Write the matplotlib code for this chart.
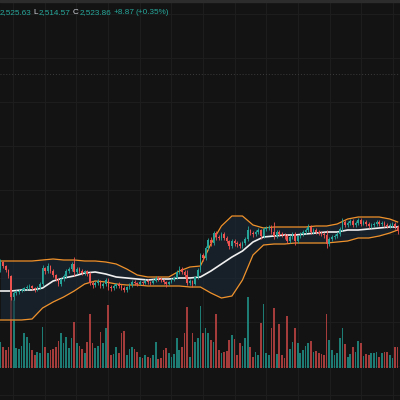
import numpy as np
import matplotlib
matplotlib.use("Agg")
import matplotlib.pyplot as plt

# ---- candle data (hourly bars, oldest first) ----
opens = [2440, 2456, 2448, 2440, 2428, 2386, 2394, 2396, 2398, 2400,
         2404, 2406, 2408, 2404, 2402, 2406, 2412, 2444, 2438, 2448,
         2438, 2430, 2422, 2412, 2422, 2428, 2438, 2442, 2452, 2436,
         2442, 2438, 2434, 2438, 2432, 2414, 2410, 2414, 2418, 2408,
         2412, 2420, 2406, 2404, 2408, 2412, 2408, 2404, 2400, 2406,
         2410, 2416, 2414, 2412, 2416, 2414, 2418, 2416, 2414, 2418,
         2424, 2422, 2420, 2416, 2412, 2416, 2420, 2424, 2436, 2442,
         2436, 2430, 2414, 2418, 2412, 2426, 2440, 2470, 2464, 2484,
         2500, 2494, 2514, 2506, 2504, 2512, 2504, 2498, 2488, 2498,
         2494, 2492, 2488, 2494, 2502, 2520, 2514, 2512, 2516, 2520,
         2508, 2522, 2524, 2526, 2516, 2508, 2516, 2512, 2510, 2508,
         2498, 2506, 2512, 2498, 2508, 2512, 2516, 2520, 2526, 2516,
         2520, 2516, 2514, 2512, 2510, 2492, 2502, 2506, 2508, 2512,
         2522, 2536, 2530, 2534, 2538, 2530, 2534, 2540, 2532, 2536,
         2532, 2528, 2530, 2532, 2536, 2532, 2534, 2530, 2528, 2530,
         2532, 2526]
closes = [2456, 2448, 2440, 2428, 2386, 2394, 2396, 2398, 2400, 2404,
          2406, 2408, 2404, 2402, 2406, 2412, 2444, 2438, 2448, 2438,
          2430, 2422, 2412, 2422, 2428, 2438, 2442, 2452, 2436, 2442,
          2438, 2434, 2438, 2432, 2414, 2410, 2414, 2418, 2408, 2412,
          2420, 2406, 2404, 2408, 2412, 2408, 2404, 2400, 2406, 2410,
          2416, 2414, 2412, 2416, 2414, 2418, 2416, 2414, 2418, 2424,
          2422, 2420, 2416, 2412, 2416, 2420, 2424, 2436, 2442, 2436,
          2430, 2414, 2418, 2412, 2426, 2440, 2470, 2464, 2484, 2500,
          2494, 2514, 2506, 2504, 2512, 2504, 2498, 2488, 2498, 2494,
          2492, 2488, 2494, 2502, 2520, 2514, 2512, 2516, 2520, 2508,
          2522, 2524, 2526, 2516, 2508, 2516, 2512, 2510, 2508, 2498,
          2506, 2512, 2498, 2508, 2512, 2516, 2520, 2526, 2516, 2520,
          2516, 2514, 2512, 2510, 2492, 2502, 2506, 2508, 2512, 2522,
          2536, 2530, 2534, 2538, 2530, 2534, 2540, 2532, 2536, 2532,
          2528, 2530, 2532, 2536, 2532, 2534, 2530, 2528, 2530, 2532,
          2526, 2518]
highs = [2462, 2458, 2450, 2442, 2430, 2398, 2400, 2402, 2404, 2406,
         2410, 2412, 2410, 2406, 2408, 2416, 2450, 2446, 2454, 2450,
         2442, 2432, 2424, 2424, 2432, 2442, 2446, 2456, 2466, 2446,
         2446, 2442, 2440, 2440, 2436, 2418, 2418, 2422, 2420, 2416,
         2424, 2424, 2410, 2412, 2414, 2416, 2412, 2408, 2408, 2414,
         2420, 2420, 2416, 2420, 2418, 2422, 2422, 2418, 2422, 2428,
         2428, 2426, 2422, 2418, 2418, 2424, 2428, 2440, 2448, 2446,
         2440, 2440, 2422, 2420, 2428, 2444, 2474, 2474, 2488, 2504,
         2506, 2518, 2518, 2510, 2516, 2516, 2508, 2500, 2502, 2502,
         2498, 2496, 2498, 2506, 2528, 2522, 2518, 2520, 2524, 2522,
         2526, 2528, 2530, 2530, 2536, 2520, 2520, 2516, 2514, 2512,
         2510, 2516, 2516, 2510, 2516, 2520, 2524, 2532, 2530, 2524,
         2524, 2520, 2518, 2516, 2520, 2506, 2510, 2512, 2516, 2526,
         2544, 2540, 2538, 2542, 2542, 2538, 2544, 2544, 2540, 2540,
         2536, 2534, 2536, 2540, 2540, 2538, 2538, 2534, 2534, 2536,
         2536, 2530]
lows = [2436, 2444, 2436, 2424, 2380, 2380, 2390, 2392, 2396, 2398,
        2400, 2402, 2400, 2396, 2398, 2402, 2408, 2432, 2434, 2434,
        2426, 2418, 2408, 2408, 2418, 2424, 2434, 2438, 2428, 2432,
        2434, 2430, 2430, 2428, 2410, 2404, 2406, 2410, 2404, 2404,
        2408, 2400, 2398, 2400, 2404, 2404, 2400, 2396, 2396, 2402,
        2406, 2410, 2408, 2410, 2410, 2412, 2412, 2410, 2412, 2416,
        2418, 2416, 2412, 2406, 2410, 2414, 2418, 2422, 2432, 2432,
        2426, 2410, 2410, 2406, 2410, 2422, 2436, 2458, 2460, 2480,
        2488, 2490, 2500, 2500, 2500, 2500, 2494, 2482, 2484, 2488,
        2486, 2484, 2484, 2490, 2498, 2510, 2506, 2508, 2512, 2502,
        2504, 2518, 2520, 2512, 2502, 2504, 2508, 2506, 2502, 2494,
        2494, 2502, 2490, 2494, 2504, 2508, 2512, 2516, 2512, 2512,
        2512, 2510, 2508, 2504, 2484, 2488, 2498, 2502, 2504, 2508,
        2518, 2526, 2526, 2530, 2526, 2526, 2530, 2528, 2530, 2528,
        2524, 2524, 2526, 2528, 2528, 2528, 2526, 2524, 2524, 2526,
        2522, 2512]
volumes = [26, 21, 18, 21, 88, 68, 20, 19, 22, 35,
           31, 25, 18, 13, 16, 15, 41, 21, 15, 18,
           19, 21, 27, 35, 25, 31, 20, 30, 46, 25,
           22, 19, 15, 26, 54, 25, 20, 22, 36, 25,
           40, 63, 13, 14, 21, 15, 35, 37, 13, 19,
           21, 19, 16, 11, 10, 13, 11, 10, 13, 26,
           9, 10, 18, 20, 15, 11, 14, 30, 18, 21,
           35, 61, 11, 35, 26, 30, 62, 35, 40, 35,
           28, 26, 54, 18, 15, 16, 17, 28, 33, 29,
           13, 25, 22, 30, 71, 21, 11, 16, 13, 45,
           64, 15, 13, 40, 60, 14, 44, 13, 10, 52,
           19, 26, 40, 25, 15, 18, 22, 25, 27, 16,
           17, 15, 14, 13, 54, 28, 18, 13, 15, 30,
           40, 24, 11, 14, 21, 16, 27, 25, 12, 14,
           13, 15, 15, 16, 11, 15, 16, 16, 13, 10,
           21, 21]

# Bollinger bands read every 4th bar
band_idx = [0, 4, 8, 12, 16, 20, 24, 28, 32, 36, 40, 44, 48, 52, 56, 60, 64, 68, 72,
            76, 80, 84, 88, 92, 96, 100, 104, 108, 112, 116, 120, 124, 128, 132, 136,
            140, 144, 148, 151]
bb_upper = [2458, 2458, 2458, 2458, 2460, 2462, 2460, 2460, 2458, 2458, 2456, 2452, 2442,
            2430, 2426, 2426, 2426, 2438, 2446, 2448, 2492, 2528, 2548, 2548, 2530, 2524,
            2526, 2526, 2526, 2526, 2528, 2528, 2532, 2542, 2546, 2546, 2546, 2542, 2536]
bb_basis = [2398, 2398, 2400, 2400, 2404, 2418, 2424, 2428, 2434, 2436, 2432, 2426, 2424,
            2422, 2420, 2422, 2422, 2424, 2424, 2426, 2438, 2452, 2466, 2478, 2496, 2506,
            2508, 2510, 2510, 2512, 2514, 2516, 2516, 2520, 2520, 2522, 2524, 2526, 2526]
bb_lower = [2340, 2340, 2340, 2342, 2364, 2376, 2386, 2398, 2412, 2418, 2416, 2412, 2410,
            2410, 2408, 2408, 2408, 2408, 2406, 2406, 2394, 2384, 2388, 2420, 2470, 2490,
            2492, 2492, 2494, 2494, 2494, 2494, 2496, 2498, 2504, 2504, 2508, 2514, 2520]

BG = "#131313"
GRID = "#1e1e1e"
UP = "#26a69a"
DOWN = "#ef5350"

o = np.array(opens, dtype=float)
c = np.array(closes, dtype=float)
h = np.array(highs, dtype=float)
l = np.array(lows, dtype=float)
v = np.array(volumes, dtype=float)
idx = np.arange(len(c))
up = c >= o
cols = np.where(up, UP, DOWN)

fig = plt.figure(figsize=(4, 4), dpi=100, facecolor=BG)

# volume pane (same area, zero sits near the bottom)
axv = fig.add_axes([0, 0, 1, 1])
axv.set_facecolor(BG)
axv.set_xlim(-0.19, 151.9)
axv.set_ylim(-32, 368)
axv.axis("off")

# grid drawn on volume axes so everything else sits above
px_to_idx = lambda px: (px - 0.5) / 2.63
for gx in np.arange(13, 400, 31.67):
    axv.axvline(px_to_idx(gx), color=GRID, lw=0.7, zorder=0)
for gy in np.arange(14, 370, 44):
    axv.axhline(368 - gy, color=GRID, lw=0.7, zorder=0)
axv.axhline(368 - 395, color=GRID, lw=0.7, zorder=0)
axv.axhline(368 - 74, color="#3c3c3c", lw=0.7, ls=(0, (1, 2)), zorder=0)

vcols = np.where(up, "#1f8a80", "#b4413f")
axv.bar(idx, v, width=0.65, color=vcols, alpha=0.9, zorder=1)

# price pane
ax = fig.add_axes([0, 0, 1, 1])
ax.patch.set_alpha(0)
ax.set_xlim(-0.19, 151.9)
ax.set_ylim(2180, 2980)
ax.axis("off")

ax.fill_between(band_idx, bb_lower, bb_upper, color="#1b2a38", alpha=0.6, lw=0, zorder=1)
ax.plot(band_idx, bb_upper, color="#f0922b", lw=0.9, zorder=2)
ax.plot(band_idx, bb_lower, color="#f0922b", lw=0.9, zorder=2)
ax.plot(band_idx, bb_basis, color="#f0f0f0", lw=1.2, zorder=2)

ax.vlines(idx, l, h, colors=cols, lw=0.6, zorder=3)
body = np.where(np.abs(c - o) < 1, 1, c - o)
ax.bar(idx, body, bottom=o, width=0.62, color=cols, zorder=4)

# top strip and OHLC readout
fig.patches.append(plt.Rectangle((0, 0.995), 1, 0.005, transform=fig.transFigure,
                                 color="#2c2c2c", zorder=5))
pieces = [(-0.5, "2,525.63", UP), (33, "L", "#d1d4dc"), (38.5, "2,514.57", UP),
          (72.5, "C", "#d1d4dc"), (79.5, "2,523.86", UP), (114, "+8.87", UP),
          (136, "(+0.35%)", UP)]
for px, txt, col in pieces:
    fig.text(px / 400, 1 - 12.5 / 400, txt, color=col, fontsize=5.9,
             family="Liberation Sans", va="center", ha="left")

fig.savefig("out.png", dpi=100, facecolor=BG)
